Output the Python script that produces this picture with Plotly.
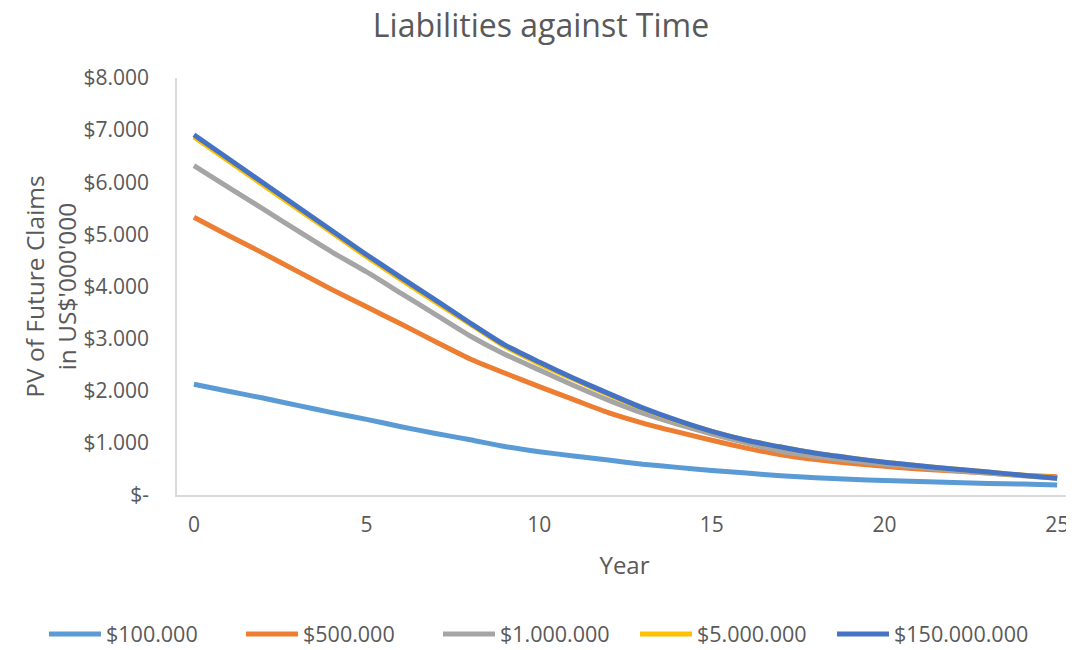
import plotly.graph_objects as go

years = list(range(0, 26))

series_names = ["$100.000", "$500.000", "$1.000.000", "$5.000.000", "$150.000.000"]
colors = ["#5B9BD5", "#ED7D31", "#A5A5A5", "#FFC000", "#4472C4"]

v_100k = [2.125, 1.99, 1.86, 1.72, 1.58, 1.45, 1.31, 1.18, 1.06, 0.93, 0.83, 0.75, 0.67,
          0.59, 0.53, 0.47, 0.42, 0.37, 0.33, 0.30, 0.28, 0.26, 0.24, 0.22, 0.21, 0.19]
v_500k = [5.33, 4.98, 4.64, 4.29, 3.94, 3.61, 3.28, 2.94, 2.61, 2.34, 2.08, 1.83, 1.58,
          1.38, 1.21, 1.05, 0.90, 0.77, 0.68, 0.61, 0.55, 0.50, 0.46, 0.42, 0.38, 0.35]
v_1m = [6.32, 5.90, 5.49, 5.07, 4.66, 4.28, 3.87, 3.46, 3.05, 2.70, 2.40, 2.10, 1.82,
        1.57, 1.36, 1.17, 1.00, 0.84, 0.74, 0.66, 0.59, 0.53, 0.47, 0.42, 0.37, 0.32]
v_5m = [6.87, 6.41, 5.95, 5.49, 5.03, 4.57, 4.13, 3.70, 3.28, 2.85, 2.52, 2.22, 1.93,
        1.66, 1.42, 1.22, 1.05, 0.92, 0.80, 0.71, 0.63, 0.56, 0.50, 0.44, 0.38, 0.33]
v_150m = [6.91, 6.45, 5.99, 5.53, 5.07, 4.61, 4.17, 3.74, 3.30, 2.88, 2.55, 2.24, 1.95,
          1.67, 1.43, 1.22, 1.05, 0.92, 0.80, 0.71, 0.63, 0.56, 0.50, 0.44, 0.38, 0.32]
all_values = [v_100k, v_500k, v_1m, v_5m, v_150m]

y_tickvals = [0, 1, 2, 3, 4, 5, 6, 7, 8]
y_ticktext = ["$-", "$1.000", "$2.000", "$3.000", "$4.000", "$5.000", "$6.000", "$7.000", "$8.000"]
x_tickvals = [0, 5, 10, 15, 20, 25]

FONT = "Open Sans, Noto Sans, sans-serif"
TXT = "#595959"

# page body has an 8px default margin, so the figure is sized/placed to compensate
W, H = 1066, 642
ML, MR, MT, MB = 169, 2, 70, 155
PW, PH = W - ML - MR, H - MT - MB

fig = go.Figure()
for name, col, vals in zip(series_names, colors, all_values):
    fig.add_trace(go.Scatter(
        x=years, y=vals, name=name, mode="lines",
        line=dict(color=col, width=5, shape="spline", smoothing=0.6),
    ))

fig.update_layout(
    width=W, height=H,
    margin=dict(l=ML, r=MR, t=MT, b=MB, autoexpand=False),
    paper_bgcolor="white", plot_bgcolor="white",
    font=dict(family=FONT, color=TXT, size=21),
    title=dict(text="Liabilities against Time", x=0.5, xanchor="center",
               y=1 - 18 / H, yanchor="middle",
               font=dict(family=FONT, size=32, color=TXT)),
    showlegend=True,
    legend=dict(orientation="h", xref="paper", x=(36 - ML) / PW, xanchor="left",
                yref="paper", y=-(626 - (H - MB)) / PH, yanchor="middle",
                font=dict(family=FONT, size=21.5, color=TXT),
                itemwidth=52, entrywidth=130, entrywidthmode="pixels",
                traceorder="normal"),
)
fig.update_xaxes(
    range=[-0.49, 25.43], tickvals=x_tickvals, showgrid=False, zeroline=False,
    showline=True, linecolor="#D9D9D9", linewidth=1.5, automargin=False,
    ticks="", ticklabelstandoff=10,
    title=dict(text="Year", font=dict(family=FONT, size=24, color=TXT), standoff=20),
    tickfont=dict(family=FONT, size=21, color=TXT),
)
fig.update_yaxes(
    range=[0, 8], tickvals=y_tickvals, ticktext=y_ticktext, showgrid=False, zeroline=False,
    showline=True, linecolor="#D9D9D9", linewidth=1.5, automargin=False,
    ticks="", ticklabelstandoff=22,
    title=dict(text="PV of Future Claims<br>in US$'000'000",
               font=dict(family=FONT, size=24.5, color=TXT), standoff=0),
    tickfont=dict(family=FONT, size=21, color=TXT),
)

fig.write_html("out.html")
